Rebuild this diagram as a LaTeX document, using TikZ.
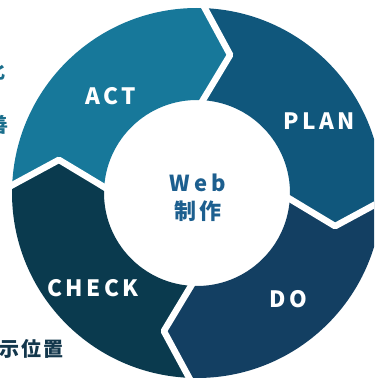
\documentclass[tikz,border=0pt]{standalone}
\usepackage{fontspec}
\setmainfont{Noto Sans CJK JP}
\newfontfamily\labfont{Noto Sans CJK JP}[LetterSpace=15]
\newfontfamily\webfont{Noto Sans CJK JP}[LetterSpace=18]
\newfontfamily\sidefont{Noto Sans CJK JP}[LetterSpace=10]
\definecolor{actc}{HTML}{17789A}
\definecolor{planc}{HTML}{10577C}
\definecolor{doc}{HTML}{133F62}
\definecolor{checkc}{HTML}{0A3A4E}
\definecolor{webc}{HTML}{1D5F8F}
\definecolor{sidec}{HTML}{1A6E8C}
\definecolor{sided}{HTML}{13374C}
\newcommand\ringseg[3]{%
  \pgfmathsetmacro\apA{#2-12.3}\pgfmathsetmacro\apB{#1-12.3}%
  \fill[#3] (#1:185pt) arc[start angle=#1,end angle=#2,radius=185pt]
    -- (\apA:142pt) -- (#2:93pt) arc[start angle=#2,end angle=#1,radius=93pt]
    -- (\apB:142pt) -- cycle;}
\newcommand\ringgap[1]{%
  \pgfmathsetmacro\apC{#1-12.3}%
  \draw[gapline] (#1:192pt) -- (\apC:142pt) -- (#1:86pt);}
\tikzset{
  gapline/.style={white,line width=6.5pt,line join=round},
  lab/.style={text=white,font=\labfont\bfseries\fontsize{22.5}{26}\selectfont,inner sep=0pt,anchor=base},
  webtext/.style={text=webc,font=\webfont\bfseries\fontsize{22}{26}\selectfont,inner sep=0pt,anchor=base},
  side/.style={font=\sidefont\bfseries\fontsize{20}{24}\selectfont,inner sep=0pt,anchor=base}
}
\begin{document}
\begin{tikzpicture}[x=1pt,y=1pt]
\useasboundingbox (0,0) rectangle (374,379);
\clip (0,0) rectangle (374,379);
\begin{scope}[shift={(197,186)}]
  \ringseg{178.8}{88.8}{actc}
  \ringseg{88.8}{-1.2}{planc}
  \ringseg{-1.2}{-91.2}{doc}
  \ringseg{-91.2}{-181.2}{checkc}
  \ringgap{88.8}
  \ringgap{-1.2}
  \ringgap{-91.2}
  \ringgap{178.8}
\end{scope}
\node[lab] (act) at (111,274) {ACT};
\node[lab] (plan) at (319,249) {PLAN};
\node[lab] (do) at (288,71) {DO};
\node[lab] (check) at (93,82) {CHECK};
\node[webtext] (web) at (198,187) {Web};
\node[webtext] (seisaku) at (198,159) {制作};
\node[side,text=sidec,anchor=base east] (ka) at (6,300) {化};
\node[side,text=sidec,anchor=base east] (zen) at (9,246) {善};
\node[side,text=sided,anchor=base west] (hyoji) at (-1,22) {示位置};
\end{tikzpicture}
\end{document}
